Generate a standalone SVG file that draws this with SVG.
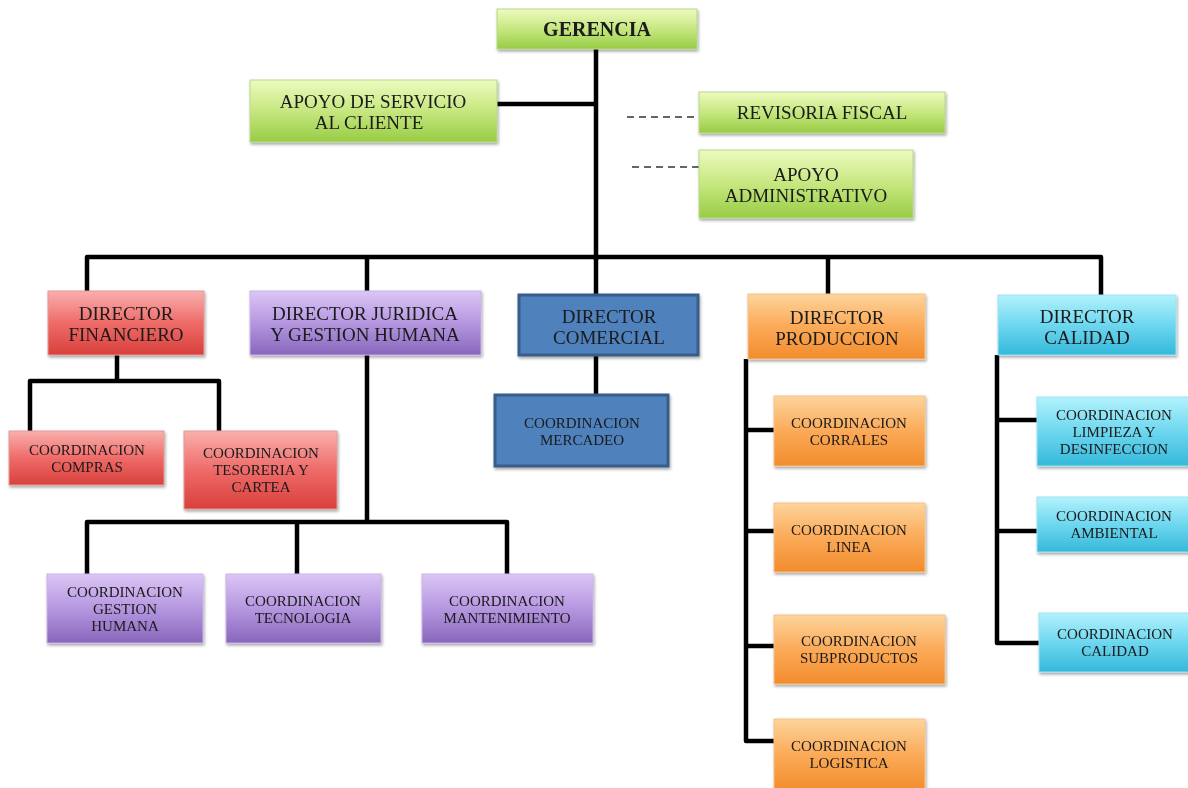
<svg xmlns="http://www.w3.org/2000/svg" width="1188" height="788" viewBox="0 0 1188 788">
<defs>
<linearGradient id="gGreen" x1="0" y1="0" x2="0" y2="1"><stop offset="0" stop-color="#eefac0"/><stop offset="0.5" stop-color="#c6e77f"/><stop offset="1" stop-color="#98cc45"/></linearGradient>
<linearGradient id="gRed" x1="0" y1="0" x2="0" y2="1"><stop offset="0" stop-color="#f9b0ae"/><stop offset="0.5" stop-color="#ee6b68"/><stop offset="1" stop-color="#d8403c"/></linearGradient>
<linearGradient id="gPurple" x1="0" y1="0" x2="0" y2="1"><stop offset="0" stop-color="#dcc6f6"/><stop offset="0.5" stop-color="#b597e0"/><stop offset="1" stop-color="#8866bb"/></linearGradient>
<linearGradient id="gOrange" x1="0" y1="0" x2="0" y2="1"><stop offset="0" stop-color="#fdd49c"/><stop offset="0.5" stop-color="#fbaa58"/><stop offset="1" stop-color="#f28c2c"/></linearGradient>
<linearGradient id="gCyan" x1="0" y1="0" x2="0" y2="1"><stop offset="0" stop-color="#b2f2fc"/><stop offset="0.5" stop-color="#6ed7ef"/><stop offset="1" stop-color="#35b8da"/></linearGradient>
<filter id="sh" x="-10%" y="-10%" width="125%" height="135%"><feDropShadow dx="1" dy="2" stdDeviation="1.5" flood-color="#000" flood-opacity="0.35"/></filter>
</defs>
<style>
.box{filter:url(#sh);}
.green{fill:url(#gGreen);stroke:#b5d98a;stroke-width:1}
.red{fill:url(#gRed);stroke:#e49a98;stroke-width:1}
.purple{fill:url(#gPurple);stroke:#c9b3e8;stroke-width:1}
.orange{fill:url(#gOrange);stroke:#f6c28a;stroke-width:1}
.cyan{fill:url(#gCyan);stroke:#9fe3f3;stroke-width:1}
.blue{fill:#4f81bd;stroke:#385d8a;stroke-width:3}
text{font-family:"Liberation Serif","DejaVu Serif",serif;fill:#1a1a1a;text-anchor:middle}
.t1{font-size:20px;font-weight:bold}
.t2{font-size:19px}
.t3{font-size:15px}
.ln{stroke:#000;stroke-width:4.5;fill:none;stroke-linejoin:round}
.dash{stroke:#333;stroke-width:1.5;stroke-dasharray:7,5;fill:none}
</style>
<g id="connectors">
<path class="ln" d="M596,49 V260"/>
<path class="ln" d="M497,104 H596"/>
<path class="dash" d="M627,117 H699"/>
<path class="dash" d="M632,167 H699"/>
<path class="ln" d="M87,292 V257 H1101 V295"/>
<path class="ln" d="M367,257 V291"/>
<path class="ln" d="M596,257 V295"/>
<path class="ln" d="M828,257 V295"/>
<path class="ln" d="M117,355 V381"/>
<path class="ln" d="M30,431 V381 H219 V431"/>
<path class="ln" d="M367,355 V522"/>
<path class="ln" d="M87,574 V522 H507 V574"/>
<path class="ln" d="M297,522 V574"/>
<path class="ln" d="M596,356 V395"/>
<path class="ln" d="M746,359 V741 H774"/>
<path class="ln" d="M746,430 H774"/>
<path class="ln" d="M746,531 H774"/>
<path class="ln" d="M746,646 H774"/>
<path class="ln" d="M997,355 V643 H1039"/>
<path class="ln" d="M997,420 H1037"/>
<path class="ln" d="M997,531 H1037"/>
</g>
<g id="gerencia" class="box"><rect class="green" x="497" y="9" width="200" height="40"/><text class="t1" x="597" y="36">GERENCIA</text></g>
<g id="apoyo-servicio" class="box"><rect class="green" x="250" y="80" width="247" height="62"/><text class="t2" x="373" y="108">APOYO DE SERVICIO</text><text class="t2" x="369" y="129">AL CLIENTE</text></g>
<g id="revisoria" class="box"><rect class="green" x="699" y="92" width="246" height="41"/><text class="t2" x="822" y="119">REVISORIA FISCAL</text></g>
<g id="apoyo-admin" class="box"><rect class="green" x="699" y="150" width="214" height="68"/><text class="t2" x="806" y="181">APOYO</text><text class="t2" x="806" y="202">ADMINISTRATIVO</text></g>
<g id="dir-financiero" class="box"><rect class="red" x="48" y="291" width="156" height="64"/><text class="t2" x="126" y="320">DIRECTOR</text><text class="t2" x="126" y="341">FINANCIERO</text></g>
<g id="dir-juridica" class="box"><rect class="purple" x="250" y="291" width="231" height="64"/><text class="t2" x="365" y="320">DIRECTOR JURIDICA</text><text class="t2" x="365" y="341">Y GESTION HUMANA</text></g>
<g id="dir-comercial" class="box"><rect class="blue" x="519" y="295" width="179" height="60"/><text class="t2" x="609" y="323">DIRECTOR</text><text class="t2" x="609" y="344">COMERCIAL</text></g>
<g id="dir-produccion" class="box"><rect class="orange" x="748" y="294" width="177" height="65"/><text class="t2" x="837" y="324">DIRECTOR</text><text class="t2" x="837" y="345">PRODUCCION</text></g>
<g id="dir-calidad" class="box"><rect class="cyan" x="998" y="295" width="178" height="60"/><text class="t2" x="1087" y="323">DIRECTOR</text><text class="t2" x="1087" y="344">CALIDAD</text></g>
<g id="coord-compras" class="box"><rect class="red" x="9" y="431" width="155" height="54"/><text class="t3" x="87" y="455">COORDINACION</text><text class="t3" x="87" y="472">COMPRAS</text></g>
<g id="coord-tesoreria" class="box"><rect class="red" x="184" y="431" width="153" height="78"/><text class="t3" x="261" y="458">COORDINACION</text><text class="t3" x="261" y="475">TESORERIA Y</text><text class="t3" x="261" y="492">CARTEA</text></g>
<g id="coord-gestion" class="box"><rect class="purple" x="47" y="574" width="156" height="69"/><text class="t3" x="125" y="597">COORDINACION</text><text class="t3" x="125" y="614">GESTION</text><text class="t3" x="125" y="631">HUMANA</text></g>
<g id="coord-tecnologia" class="box"><rect class="purple" x="226" y="574" width="155" height="69"/><text class="t3" x="303" y="606">COORDINACION</text><text class="t3" x="303" y="623">TECNOLOGIA</text></g>
<g id="coord-mantenimiento" class="box"><rect class="purple" x="422" y="574" width="171" height="69"/><text class="t3" x="507" y="606">COORDINACION</text><text class="t3" x="507" y="623">MANTENIMIENTO</text></g>
<g id="coord-mercadeo" class="box"><rect class="blue" x="495" y="395" width="173" height="71"/><text class="t3" x="582" y="428">COORDINACION</text><text class="t3" x="582" y="445">MERCADEO</text></g>
<g id="coord-corrales" class="box"><rect class="orange" x="774" y="396" width="151" height="70"/><text class="t3" x="849" y="428">COORDINACION</text><text class="t3" x="849" y="445">CORRALES</text></g>
<g id="coord-linea" class="box"><rect class="orange" x="774" y="503" width="151" height="69"/><text class="t3" x="849" y="535">COORDINACION</text><text class="t3" x="849" y="552">LINEA</text></g>
<g id="coord-subproductos" class="box"><rect class="orange" x="774" y="615" width="171" height="69"/><text class="t3" x="859" y="646">COORDINACION</text><text class="t3" x="859" y="663">SUBPRODUCTOS</text></g>
<g id="coord-logistica" class="box"><rect class="orange" x="774" y="719" width="151" height="72"/><text class="t3" x="849" y="751">COORDINACION</text><text class="t3" x="849" y="768">LOGISTICA</text></g>
<g id="coord-limpieza" class="box"><rect class="cyan" x="1037" y="397" width="153" height="69"/><text class="t3" x="1114" y="420">COORDINACION</text><text class="t3" x="1114" y="437">LIMPIEZA Y</text><text class="t3" x="1114" y="454">DESINFECCION</text></g>
<g id="coord-ambiental" class="box"><rect class="cyan" x="1037" y="497" width="153" height="55"/><text class="t3" x="1114" y="521">COORDINACION</text><text class="t3" x="1114" y="538">AMBIENTAL</text></g>
<g id="coord-calidad" class="box"><rect class="cyan" x="1039" y="613" width="151" height="59"/><text class="t3" x="1115" y="639">COORDINACION</text><text class="t3" x="1115" y="656">CALIDAD</text></g>
</svg>
